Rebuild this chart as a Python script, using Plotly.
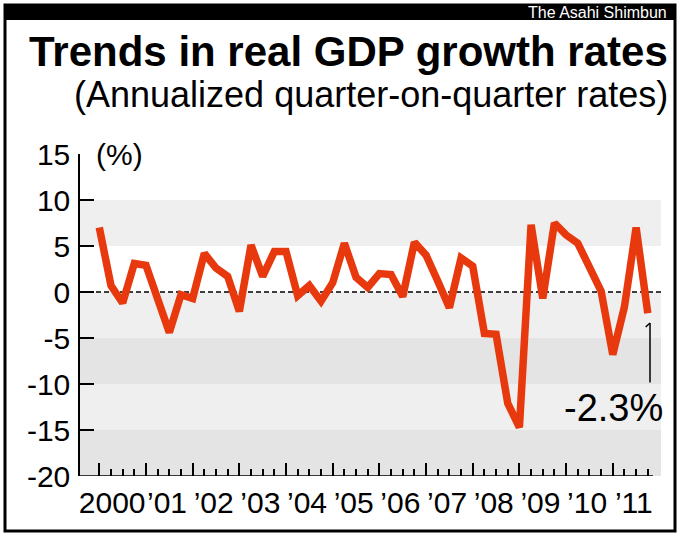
import plotly.graph_objects as go

# Real GDP growth, annualized quarter-on-quarter (%), 2000 Q1 .. 2011 Q4
growth = [7.0, 0.7, -1.2, 3.1, 2.9, -0.8, -4.4, -0.3,
          -0.7, 4.2, 2.6, 1.7, -2.1, 5.1, 1.7, 4.4,
          4.4, -0.4, 0.7, -1.0, 1.0, 5.3, 1.6, 0.5,
          2.0, 1.9, -0.5, 5.4, 4.0, 1.2, -1.7, 3.7,
          2.8, -4.5, -4.6, -12.1, -14.7, 7.3, -0.7, 7.5,
          6.2, 5.3, 2.8, 0.1, -6.8, -1.6, 7.0, -2.3]
year_labels = ["2000", "’01", "’02", "’03", "’04", "’05",
               "’06", "’07", "’08", "’09", "’10", "’11"]
y_ticks = [15, 10, 5, 0, -5, -10, -15, -20]
y_labels = ["15", "10", "5", "0", "-5", "-10", "-15", "-20"]
last_label = "-2.3%"

SANS = "Liberation Sans, Arial, Helvetica, sans-serif"
RED = "#e8380d"

W, H = 682, 537
L, R, T, B = 80, 21, 154, 61
PW, PH = W - L - R, H - T - B
QPX = 11.67           # pixels per quarter
X0 = -(99.3 - L) / QPX
X1 = X0 + PW / QPX


# figure pixel -> paper coords
def px_x(px):
    return (px - L) / PW


def px_y(py):
    return (H - B - py) / PH


quarters = list(range(len(growth)))
major = [q for q in quarters if q % 4 == 0]
minor = [q for q in quarters if q % 4 != 0]
label_pos = [4 * i + (1.1 if i == 0 else 1.8) for i in range(len(year_labels))]

fig = go.Figure()
fig.add_trace(go.Scatter(x=quarters, y=growth, mode="lines",
                         line=dict(color=RED, width=7.5),
                         hoverinfo="skip", showlegend=False))
# empty trace so the label axis gets drawn
fig.add_trace(go.Scatter(x=[], y=[], xaxis="x2", showlegend=False))

# grey bands
bands = [(10, 5, "#efefef"), (0, -5, "#efefef"), (-5, -10, "#e4e4e4"),
         (-10, -15, "#efefef"), (-15, -20, "#e4e4e4")]
for top, bot, col in bands:
    fig.add_shape(type="rect", xref="paper", yref="y", x0=0, x1=1, y0=bot, y1=top,
                  fillcolor=col, line_width=0, layer="below")

# dashed zero line
fig.add_shape(type="line", xref="paper", yref="y", x0=0, x1=1, y0=0, y1=0,
              line=dict(color="black", width=1.5, dash="5px,3px"), layer="below")

# bottom axis line (stops short of the band edge)
fig.add_shape(type="line", xref="x", yref="y", x0=X0, x1=47.45, y0=-20, y1=-20,
              line=dict(color="black", width=1.5))

# pointer to last value
fig.add_shape(type="line", xref="x", yref="y", x0=47.19, x1=47.19, y0=-3.37, y1=-9.83,
              line=dict(color="black", width=1.5))
fig.add_shape(type="line", xref="x", yref="y", x0=46.82, x1=47.19, y0=-3.8, y1=-3.37,
              line=dict(color="black", width=1.5))

# frame and header bar
fig.add_shape(type="rect", xref="paper", yref="paper",
              x0=px_x(5), x1=px_x(675), y0=px_y(20), y1=px_y(5),
              fillcolor="black", line_width=0)
fig.add_shape(type="rect", xref="paper", yref="paper",
              x0=px_x(5), x1=px_x(675), y0=px_y(531), y1=px_y(5),
              line=dict(color="black", width=3))

fig.add_annotation(text="The Asahi Shimbun", xref="paper", yref="paper",
                   x=px_x(669), y=px_y(13), xanchor="right", yanchor="middle",
                   showarrow=False, font=dict(family=SANS, size=16, color="white"))
fig.add_annotation(text="<b>Trends in real GDP growth rates</b>", xref="paper", yref="paper",
                   x=px_x(670), y=px_y(51), xanchor="right", yanchor="middle",
                   showarrow=False, font=dict(family=SANS, size=42, color="black"))
fig.add_annotation(text="(Annualized quarter-on-quarter rates)", xref="paper", yref="paper",
                   x=px_x(670), y=px_y(94), xanchor="right", yanchor="middle",
                   showarrow=False, font=dict(family=SANS, size=36, color="black"))
fig.add_annotation(text="(%)", xref="paper", yref="paper",
                   x=px_x(94), y=px_y(154), xanchor="left", yanchor="middle",
                   showarrow=False, font=dict(family=SANS, size=30, color="black"))
fig.add_annotation(text=last_label, xref="paper", yref="paper",
                   x=px_x(665), y=px_y(408), xanchor="right", yanchor="middle",
                   showarrow=False, font=dict(family=SANS, size=38, color="black"))

fig.update_layout(
    width=W, height=H,
    margin=dict(l=L, r=R, t=T, b=B, pad=0),
    paper_bgcolor="white", plot_bgcolor="white",
    showlegend=False,
    xaxis=dict(range=[X0, X1], showgrid=False, zeroline=False, showline=False,
               automargin=False,
               tickmode="array", tickvals=major, showticklabels=False,
               ticks="inside", ticklen=13, tickwidth=1.5, tickcolor="black",
               minor=dict(tickmode="array", tickvals=minor, ticks="inside",
                          ticklen=7, tickwidth=1.5, tickcolor="black")),
    xaxis2=dict(range=[X0, X1], overlaying="x", side="bottom", anchor="y",
                showgrid=False, zeroline=False, showline=False, automargin=False,
                tickmode="array", tickvals=label_pos, ticktext=year_labels,
                ticks="", tickangle=0, ticklabelstandoff=6,
                tickfont=dict(family=SANS, size=30, color="black")),
    yaxis=dict(range=[-20, 15], showgrid=False, zeroline=False, automargin=False,
               showline=True, linecolor="black", linewidth=1.5,
               tickmode="array", tickvals=y_ticks, ticktext=y_labels,
               ticks="inside", ticklen=14, tickwidth=1.5, tickcolor="black",
               ticklabelstandoff=2,
               tickfont=dict(family=SANS, size=30, color="black")),
)

# page body has an 8px default margin; drop it so the figure fills the window
fig.write_html("out.html", config={"displayModeBar": False},
               post_script="document.body.style.margin = '0';")
